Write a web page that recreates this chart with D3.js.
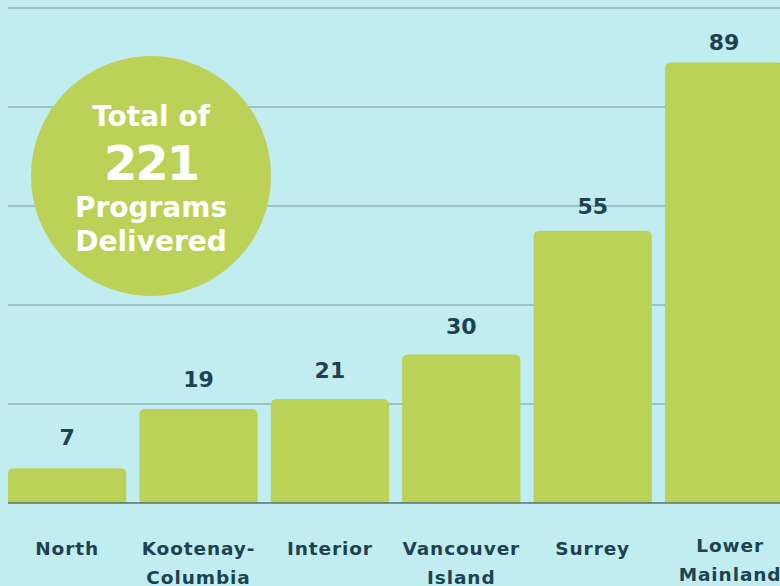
<!DOCTYPE html>
<html>
<head>
<meta charset="utf-8">
<script src="https://cdn.jsdelivr.net/npm/d3@7"></script>
<style>
  html, body { margin: 0; padding: 0; background: #c1edf0; }
  svg { display: block; font-family: "DejaVu Sans", "Open Sans", sans-serif; }
</style>
</head>
<body>
<svg id="chart"></svg>
<script>
// ── Data ─────────────────────────────────────────────────────────────────────
const regions  = ["North", "Kootenay-Columbia", "Interior", "Vancouver Island", "Surrey", "Lower Mainland"];
const labelLines = [["North"], ["Kootenay-", "Columbia"], ["Interior"], ["Vancouver", "Island"], ["Surrey"], ["Lower", "Mainland"]];
const programs = [7, 19, 21, 30, 55, 89];
const gridTicks = [0, 20, 40, 60, 80, 100];
const totalLines = ["Total of", "221", "Programs", "Delivered"];

const W = 780, H = 586;
const BASE = 503;
const GREEN = "#bcd157", INK = "#1e4350";

const svg = d3.select("#chart").attr("width", W).attr("height", H);
svg.append("rect").attr("width", W).attr("height", H).attr("fill", "#c1edf0");

// ── Scales ───────────────────────────────────────────────────────────────────
const x = d3.scaleBand().domain(regions).range([1.4, 789.8])
  .paddingInner(0.1).paddingOuter(0.05);
const y = d3.scaleLinear().domain([0, 100]).range([BASE, 8]);
// value labels sit a little closer to the taller bars
const yLabel = d3.scaleLinear().domain([0, 100]).range([479, -3.5]);

// ── Gridlines ────────────────────────────────────────────────────────────────
svg.append("g").selectAll("line")
  .data(gridTicks.filter(d => d > 0))
  .join("line")
  .attr("x1", 8).attr("x2", W)
  .attr("y1", d => y(d)).attr("y2", d => y(d))
  .attr("stroke", "#8fb3b7").attr("stroke-width", 1.5);

// ── Bars (rounded top corners) ───────────────────────────────────────────────
const r = 6;
function barPath(x0, w, top, bottom) {
  return `M${x0},${bottom}V${top + r}Q${x0},${top} ${x0 + r},${top}` +
         `H${x0 + w - r}Q${x0 + w},${top} ${x0 + w},${top + r}V${bottom}Z`;
}
svg.append("g").selectAll("path")
  .data(regions)
  .join("path")
  .attr("d", (d, i) => barPath(x(d), x.bandwidth(), y(programs[i]), y(0)))
  .attr("fill", GREEN);

// baseline
svg.append("line")
  .attr("x1", 8).attr("x2", W).attr("y1", y(0)).attr("y2", y(0))
  .attr("stroke", "#56707a").attr("stroke-width", 1.5);

// ── Value labels ─────────────────────────────────────────────────────────────
svg.append("g").selectAll("text")
  .data(regions)
  .join("text")
  .attr("x", d => x(d) + x.bandwidth() / 2)
  .attr("y", (d, i) => yLabel(programs[i]))
  .attr("text-anchor", "middle")
  .attr("fill", INK)
  .attr("font-size", 22).attr("font-weight", 700)
  .text((d, i) => programs[i]);

// ── Category labels ──────────────────────────────────────────────────────────
const cat = svg.append("g").selectAll("text")
  .data(regions)
  .join("text")
  .attr("x", (d, i) => x(d) + x.bandwidth() / 2 + (i === 5 ? 6 : 0))
  .attr("y", (d, i) => i === 5 ? 552 : 555)
  .attr("text-anchor", "middle")
  .attr("fill", INK)
  .attr("font-size", 18.5).attr("font-weight", 700)
  .attr("letter-spacing", 0.9);
cat.selectAll("tspan")
  .data((d, i) => labelLines[i])
  .join("tspan")
  .attr("x", function() { return this.parentNode.getAttribute("x"); })
  .attr("dy", (d, j) => j === 0 ? 0 : 29)
  .text(d => d);

// ── Total badge ──────────────────────────────────────────────────────────────
const badge = svg.append("g").attr("transform", "translate(151,176)");
badge.append("circle").attr("r", 120).attr("fill", GREEN);
const sizes = [28, 48, 28, 28];
const spacing = [0, -2, 0, 0];
const ys = [-50, 4, 41, 75];
badge.selectAll("text")
  .data(totalLines)
  .join("text")
  .attr("y", (d, i) => ys[i])
  .attr("text-anchor", "middle")
  .attr("fill", "#ffffff")
  .attr("font-size", (d, i) => sizes[i]).attr("font-weight", 700)
  .attr("letter-spacing", (d, i) => spacing[i])
  .text(d => d);
</script>
</body>
</html>
